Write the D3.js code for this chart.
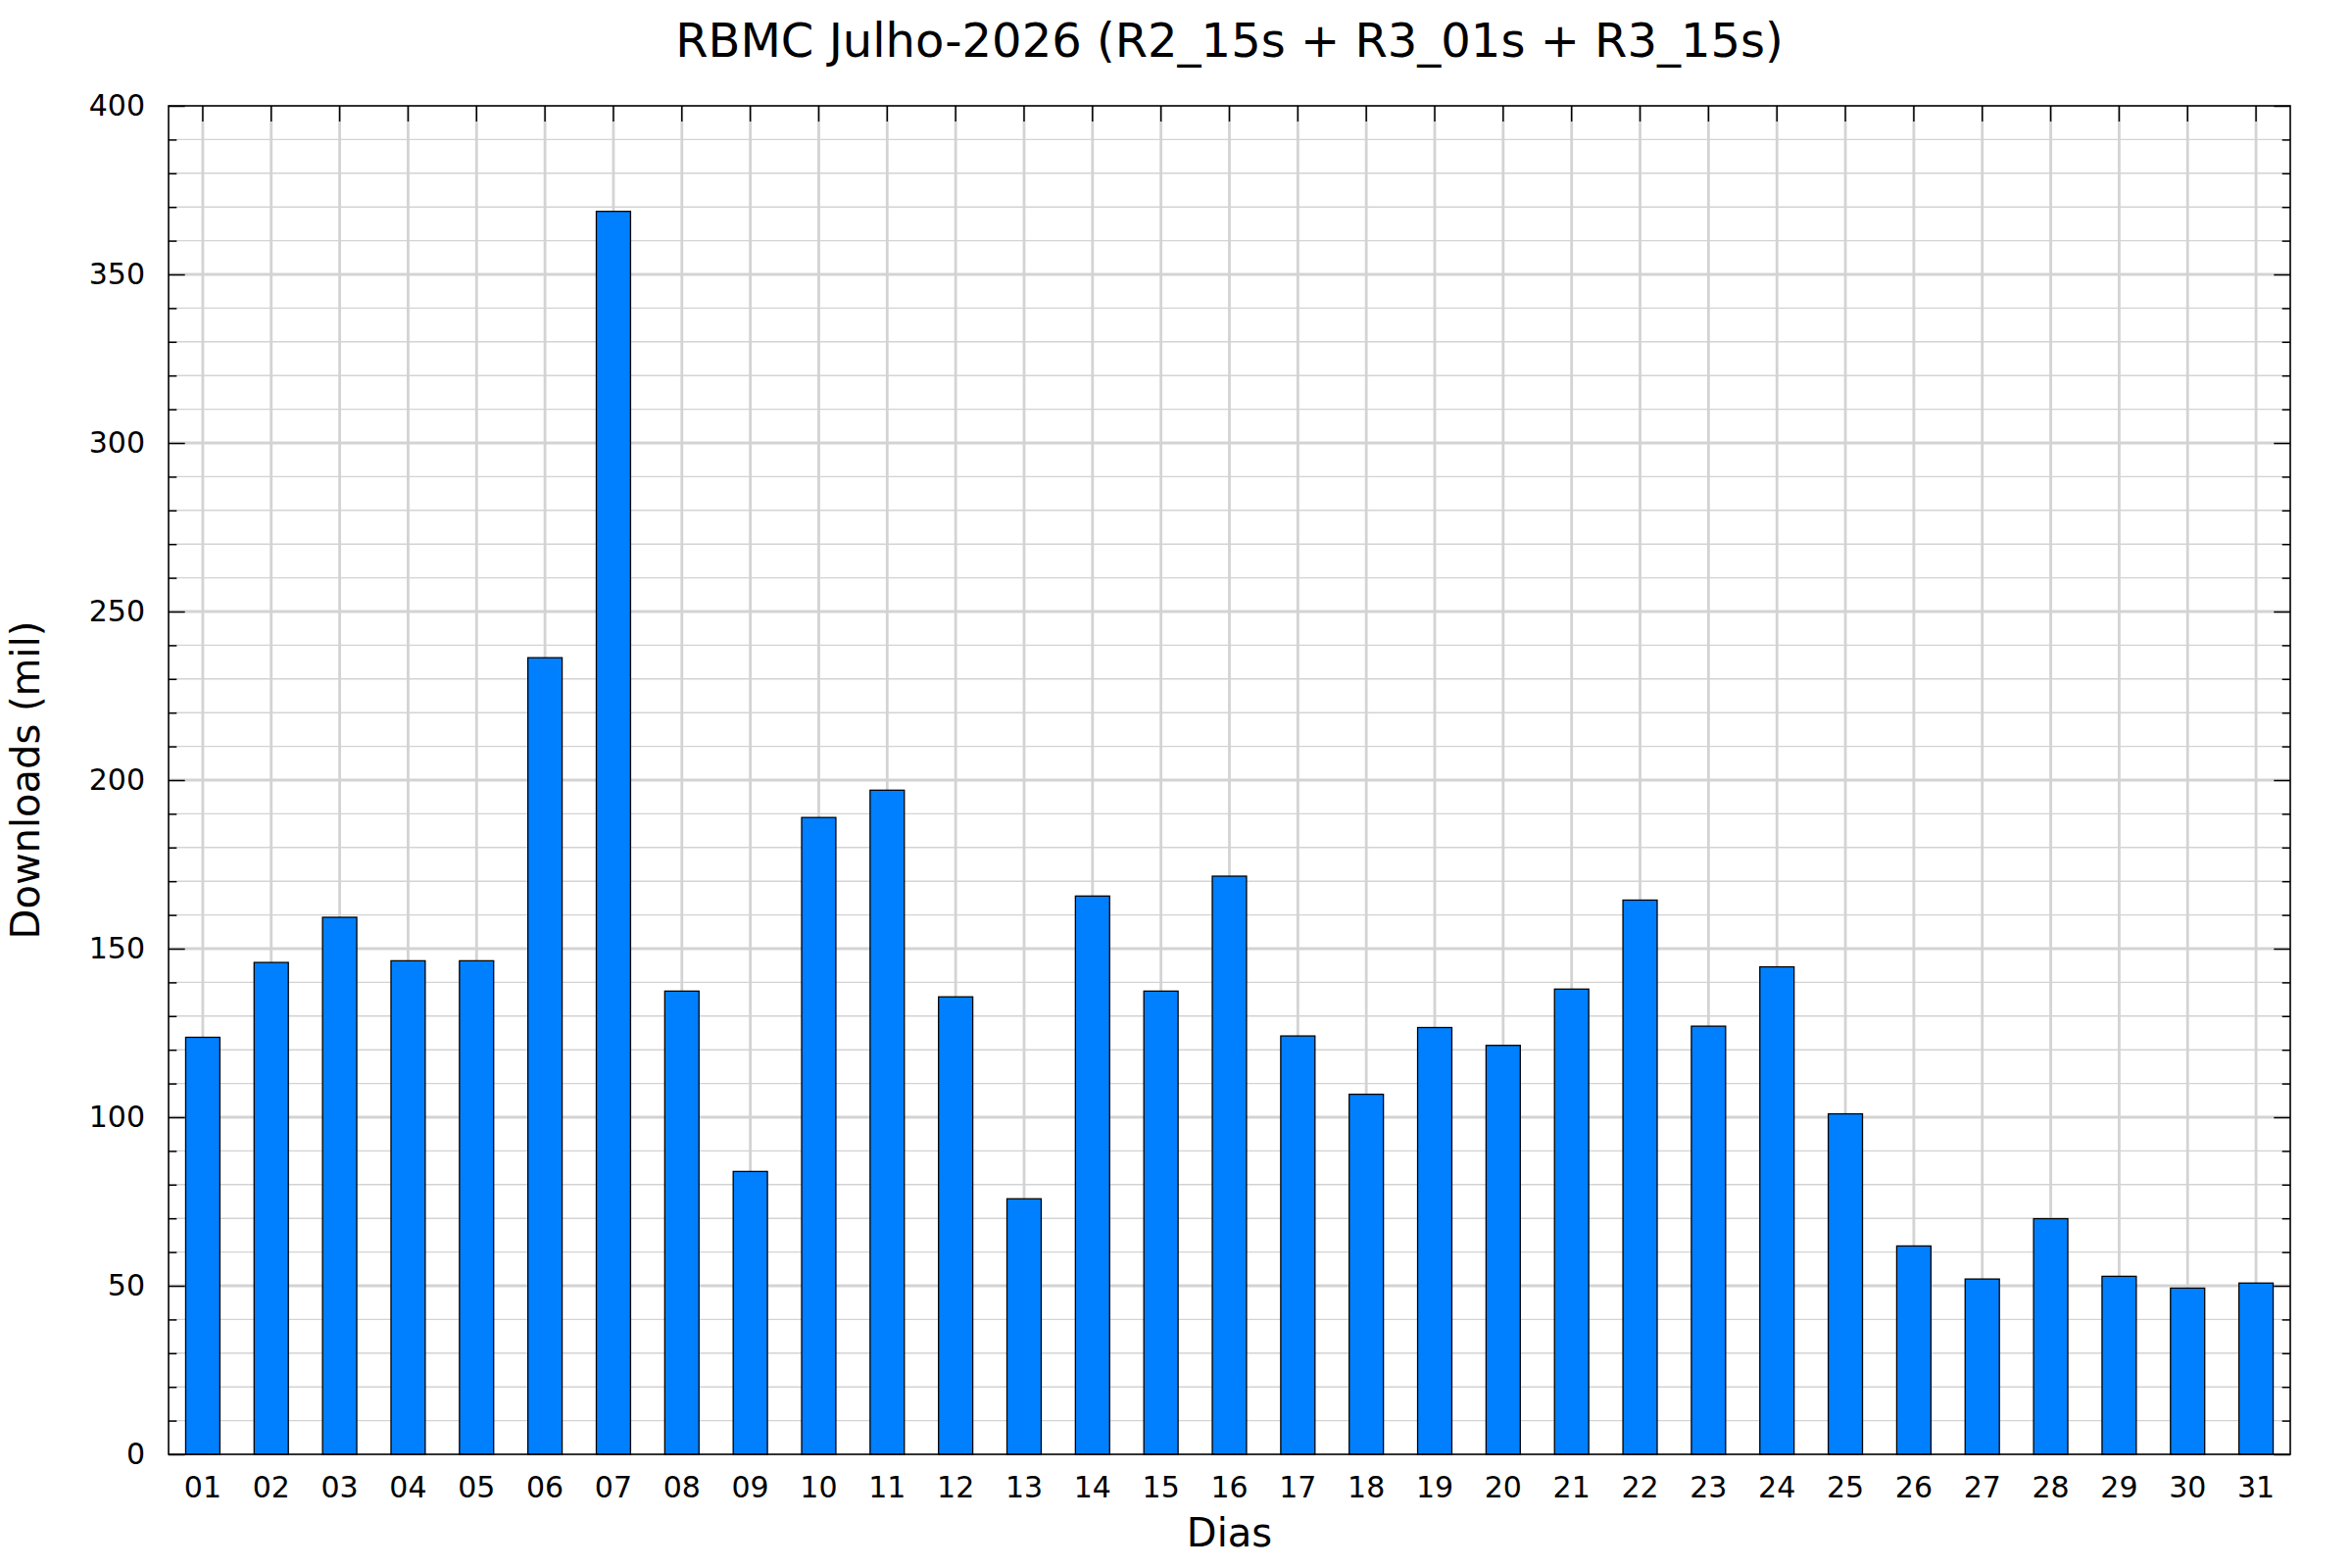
<!DOCTYPE html>
<html>
<head>
<meta charset="utf-8">
<script src="https://cdn.jsdelivr.net/npm/d3@7"></script>
<style>
    body { margin: 0; background: #fff; }
    text { font-family: "DejaVu Sans", sans-serif; fill: #000; }
    .grid-major { stroke: #d3d3d3; stroke-width: 3; }
    .grid-minor { stroke: #d3d3d3; stroke-width: 1.4; }
    .grid-x { stroke: #d3d3d3; stroke-width: 2.8; }
    .tick line { stroke: #000; stroke-width: 1.5; }
    .domain { display: none; }
</style>
</head>
<body>
<div id="container"></div>
<script>
var days = ["01","02","03","04","05","06","07","08","09","10",
            "11","12","13","14","15","16","17","18","19","20",
            "21","22","23","24","25","26","27","28","29","30","31"];

var downloads = [123.7, 145.9, 159.3, 146.4, 146.4, 236.3, 368.7, 137.4, 83.9, 188.9,
                 197.0, 135.7, 75.8, 165.6, 137.4, 171.5, 124.1, 106.8, 126.6, 121.3,
                 138.0, 164.4, 127.0, 144.6, 101.0, 61.8, 52.0, 69.9, 52.8, 49.3, 50.8];

var majorTicks = [0, 50, 100, 150, 200, 250, 300, 350, 400];
var minorTicks = d3.range(0, 401, 10).filter(d => d % 50 != 0);

var titleText = "RBMC Julho-2026 (R2_15s + R3_01s + R3_15s)";
var xLabel = "Dias";
var yLabel = "Downloads (mil)";

makeBarChart();

function makeBarChart () {

    // 1. svg and margins
    var width = 2400;
    var height = 1600;
    var margin = {left: 172, top: 108, bottom: 116, right: 63};

    var data = days.map((d, i) => ({day: d, value: downloads[i]}));

    const svg = d3.select("#container")
                  .append("svg")
                  .attr("width", width)
                  .attr("height", height);

    // 2. scales
    var xScale = d3.scaleBand()
                   .domain(days)
                   .range([margin.left, width - margin.right])
                   .paddingInner(0.5)
                   .paddingOuter(0.25);

    var yScale = d3.scaleLinear()
                   .domain([0, 400])
                   .range([height - margin.bottom, margin.top]);

    var left = margin.left;
    var right = width - margin.right;
    var top = margin.top;
    var bottom = height - margin.bottom;
    var center = (d) => xScale(d) + xScale.bandwidth() / 2;

    // 3. grid lines (behind the bars)
    svg.append("g")
       .selectAll("line")
       .data(minorTicks)
       .enter()
       .append("line")
       .attr("class", "grid-minor")
       .attr("x1", left).attr("x2", right)
       .attr("y1", (d) => yScale(d)).attr("y2", (d) => yScale(d));

    svg.append("g")
       .selectAll("line")
       .data(majorTicks.slice(1, -1))
       .enter()
       .append("line")
       .attr("class", "grid-major")
       .attr("x1", left).attr("x2", right)
       .attr("y1", (d) => yScale(d)).attr("y2", (d) => yScale(d));

    svg.append("g")
       .selectAll("line")
       .data(days)
       .enter()
       .append("line")
       .attr("class", "grid-x")
       .attr("x1", center).attr("x2", center)
       .attr("y1", top).attr("y2", bottom);

    // 4. bars
    svg.selectAll("rect.bar")
       .data(data)
       .enter()
       .append("rect")
       .attr("class", "bar")
       .attr("x", (d) => xScale(d.day))
       .attr("y", (d) => yScale(d.value))
       .attr("width", xScale.bandwidth())
       .attr("height", (d) => yScale(0) - yScale(d.value))
       .attr("fill", "#0080ff")
       .attr("stroke", "#000")
       .attr("stroke-width", 1.3);

    // 5. axes, ticks pointing inwards
    var yAxis = d3.axisLeft(yScale)
                  .tickValues(majorTicks)
                  .tickSize(-16.7)
                  .tickPadding(24);
    var gy = svg.append("g")
       .attr("transform", "translate(" + left + ",0)")
       .call(yAxis);
    gy.selectAll("text").style("font-size", "30px");

    svg.append("g")
       .attr("transform", "translate(" + left + ",0)")
       .call(d3.axisLeft(yScale).tickValues(minorTicks).tickSize(-8.3).tickFormat(""));

    svg.append("g")
       .attr("transform", "translate(" + right + ",0)")
       .call(d3.axisRight(yScale).tickValues(majorTicks).tickSize(-16.7).tickFormat(""));

    svg.append("g")
       .attr("transform", "translate(" + right + ",0)")
       .call(d3.axisRight(yScale).tickValues(minorTicks).tickSize(-8.3).tickFormat(""));

    svg.append("g")
       .attr("transform", "translate(0," + top + ")")
       .call(d3.axisTop(xScale).tickSize(-16).tickFormat(""));

    var gx = svg.append("g")
       .attr("transform", "translate(0," + bottom + ")")
       .call(d3.axisBottom(xScale).tickSize(0));
    gx.selectAll("text")
      .attr("dy", null)
      .attr("y", 44)
      .style("font-size", "30px");

    // 6. border
    svg.append("rect")
       .attr("x", left)
       .attr("y", top)
       .attr("width", right - left)
       .attr("height", bottom - top)
       .attr("fill", "none")
       .attr("stroke", "#000")
       .attr("stroke-width", 1.6);

    // 7. title and labels
    svg.append("text")
       .attr("x", (left + right) / 2)
       .attr("y", 58)
       .attr("text-anchor", "middle")
       .style("font-size", "48px")
       .text(titleText);

    svg.append("text")
       .attr("x", (left + right) / 2)
       .attr("y", 1578)
       .attr("text-anchor", "middle")
       .style("font-size", "40px")
       .text(xLabel);

    svg.append("text")
       .attr("transform", "translate(40," + ((top + bottom) / 2) + ") rotate(-90)")
       .attr("text-anchor", "middle")
       .style("font-size", "40px")
       .text(yLabel);
}
</script>
</body>
</html>
